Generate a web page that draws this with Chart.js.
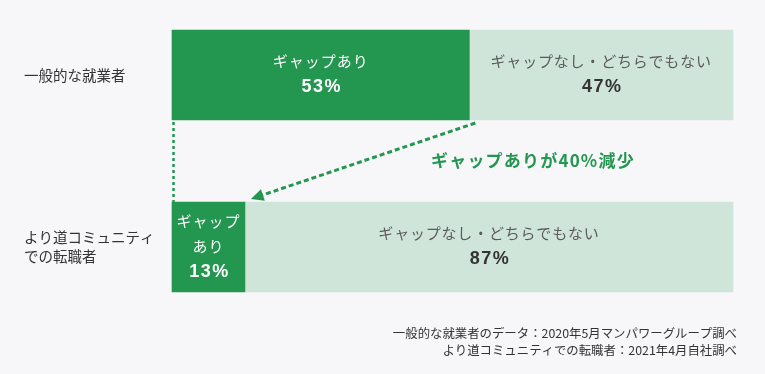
<!DOCTYPE html>
<html>
<head>
<meta charset="utf-8">
<script src="https://cdn.jsdelivr.net/npm/chart.js@4"></script>
<style>
  html, body { margin: 0; padding: 0; background: #f7f7fa; }
  #wrap { width: 765px; height: 374px; }
</style>
</head>
<body>
<div id="wrap"><canvas id="gap" width="765" height="374"></canvas></div>
<script>
const categories = ['一般的な就業者', ['より道コミュニティ', 'での転職者']];
const gapYes = [53, 13];
const gapNo = [47, 87];
const yesLabels = [['ギャップあり'], ['ギャップ', 'あり']];
const noLabel = 'ギャップなし・どちらでもない';
const arrowLabel = 'ギャップありが40%減少';
const notes = ['一般的な就業者のデータ：2020年5月マンパワーグループ調べ', 'より道コミュニティでの転職者：2021年4月自社調べ'];

const green = '#23964f';
const lightGreen = '#cfe5d9';
const jp = '"Noto Sans CJK JP", "Noto Sans", sans-serif';
const num = '"Liberation Sans", "Noto Sans CJK JP", sans-serif';

// draws the labels inside the bars, the dotted guides, the arrow and the notes
const barText = {
    id: 'barText',
    afterDatasetsDraw(chart) {
        const ctx = chart.ctx;
        const yes = chart.getDatasetMeta(0).data;
        const no = chart.getDatasetMeta(1).data;
        const step = 25;
        ctx.save();
        ctx.textAlign = 'center';
        ctx.textBaseline = 'middle';

        yes.forEach((bar, i) => {
            const cx = (bar.x + bar.base) / 2;
            const lines = yesLabels[i];
            const n = lines.length + 1;
            const first = bar.y - 1 - (n - 1) * step / 2;
            ctx.fillStyle = '#fff';
            ctx.font = '15px ' + jp;
            ctx.letterSpacing = '1px';
            lines.forEach((t, j) => ctx.fillText(t, cx, first + j * step));
            ctx.font = 'bold 18px ' + num;
            ctx.letterSpacing = '1.5px';
            ctx.fillText(gapYes[i] + '%', cx + 1, first + lines.length * step + 1);
        });

        no.forEach((bar, i) => {
            const cx = (bar.x + bar.base) / 2;
            ctx.fillStyle = '#5a5a5a';
            ctx.font = '15px ' + jp;
            ctx.letterSpacing = '0.8px';
            ctx.fillText(noLabel, cx, bar.y - 14);
            ctx.fillStyle = '#333';
            ctx.font = 'bold 18px ' + num;
            ctx.letterSpacing = '1.5px';
            ctx.fillText(gapNo[i] + '%', cx + 1, bar.y + 12);
        });
        ctx.letterSpacing = '0px';

        // dotted guide lines + arrow
        const a = yes[0], b = yes[1];
        const aBottom = a.y + a.height / 2, bTop = b.y - b.height / 2;
        ctx.strokeStyle = green;
        ctx.lineWidth = 2.5;
        ctx.setLineDash([3, 3]);
        ctx.beginPath();
        ctx.moveTo(a.base + 1.5, aBottom + 2);
        ctx.lineTo(a.base + 1.5, bTop);
        ctx.stroke();

        const sx = a.x + 6, sy = aBottom + 3;
        const ex = b.x + 6, ey = bTop - 3;
        const ang = Math.atan2(ey - sy, ex - sx);
        ctx.lineWidth = 3;
        ctx.setLineDash([5, 3]);
        ctx.beginPath();
        ctx.moveTo(sx, sy);
        ctx.lineTo(ex - 10 * Math.cos(ang), ey - 10 * Math.sin(ang));
        ctx.stroke();
        ctx.setLineDash([]);
        ctx.fillStyle = green;
        ctx.beginPath();
        ctx.moveTo(ex, ey);
        ctx.lineTo(ex - 14 * Math.cos(ang - 0.45), ey - 14 * Math.sin(ang - 0.45));
        ctx.lineTo(ex - 14 * Math.cos(ang + 0.45), ey - 14 * Math.sin(ang + 0.45));
        ctx.closePath();
        ctx.fill();

        ctx.textAlign = 'left';
        ctx.font = 'bold 17px ' + jp;
        ctx.letterSpacing = '1.2px';
        ctx.fillText(arrowLabel, 431, (aBottom + bTop) / 2);
        ctx.letterSpacing = '0px';

        ctx.textAlign = 'right';
        ctx.fillStyle = '#333';
        ctx.font = '12.4px ' + jp;
        notes.forEach((t, j) => ctx.fillText(t, chart.chartArea.right + 4, 333 + j * 17.5));
        ctx.restore();
    }
};

new Chart(document.getElementById('gap'), {
    type: 'bar',
    data: {
        labels: categories,
        datasets: [
            { label: 'ギャップあり', data: gapYes, backgroundColor: green, barThickness: 90, clip: false, borderWidth: 0 },
            { label: noLabel, data: gapNo, backgroundColor: lightGreen, barThickness: 90, clip: false, borderWidth: 0 }
        ]
    },
    options: {
        indexAxis: 'y',
        responsive: false,
        animation: false,
        layout: { padding: { left: 24, right: 32, top: 75, bottom: 127 } },
        plugins: { legend: { display: false }, tooltip: { enabled: false } },
        scales: {
            x: { stacked: true, min: 0, max: 100, display: false },
            y: {
                stacked: true,
                offset: false,
                grid: { display: false },
                border: { display: false },
                ticks: { crossAlign: 'far', color: '#333', font: { family: jp, size: 14.5, lineHeight: 1.35 } },
                afterFit(scale) { scale.width = 148; }
            }
        }
    },
    plugins: [barText]
});
</script>
</body>
</html>
